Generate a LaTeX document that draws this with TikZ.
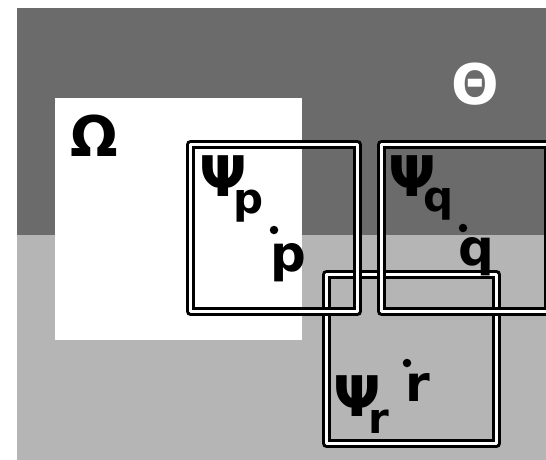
\documentclass[tikz,border=0pt]{standalone}
\usepackage{fontspec}
\setmainfont{DejaVu Sans}
\definecolor{darkg}{HTML}{6B6B6B}
\definecolor{lightg}{HTML}{B5B5B5}
\begin{document}
\begin{tikzpicture}[x=1pt,y=-1pt,
  box/.style={draw=black, double=white, line width=3.2pt, double distance=2.6pt, line join=round, inner sep=0pt, rectangle},
  big/.style={inner sep=0pt, anchor=north west, font=\fontsize{56}{56}\selectfont\bfseries},
  subl/.style={inner sep=0pt, anchor=north west, font=\fontsize{42}{42}\selectfont\bfseries},
  ptl/.style={inner sep=0pt, anchor=north west, font=\fontsize{50}{50}\selectfont\bfseries},
  dotc/.style={circle, fill=black, inner sep=0pt, minimum size=8.5pt}]
\useasboundingbox (0,0) rectangle (546,460);
\clip (0,0) rectangle (546,460);
\fill[darkg] (17,8) rectangle (546,235);
\fill[lightg] (17,235) rectangle (546,460);
\fill[white] (55,98) rectangle (302,340);
% boxes
\node[box, minimum width=170pt, minimum height=169pt] (boxr) at (411.5,359) {};
\node[box, minimum width=167pt, minimum height=167pt] (boxp) at (274,228) {};
\node[box, minimum width=167pt, minimum height=167pt] (boxq) at (465,228) {};
% region labels
\node[big] (omega) at (70,115) {Ω};
\node[big, text=white] (theta) at (451,63) {Θ};
% p
\node[big] (psip) at (199,155) {Ψ};
\node[subl] (subp) at (233,190) {p};
\node[dotc] (dotp) at (274,230) {};
\node[ptl] (lblp) at (270,243) {p};
% q
\node[big] (psiq) at (388,155) {Ψ};
\node[subl] (subq) at (423,188) {q};
\node[dotc] (dotq) at (463,228) {};
\node[ptl] (lblq) at (458,237) {q};
% r
\node[big] (psir) at (333,375) {Ψ};
\node[subl] (subr) at (368,410) {r};
\node[dotc] (dotr) at (407,363) {};
\node[ptl] (lblr) at (405,373) {r};
\end{tikzpicture}
\end{document}
